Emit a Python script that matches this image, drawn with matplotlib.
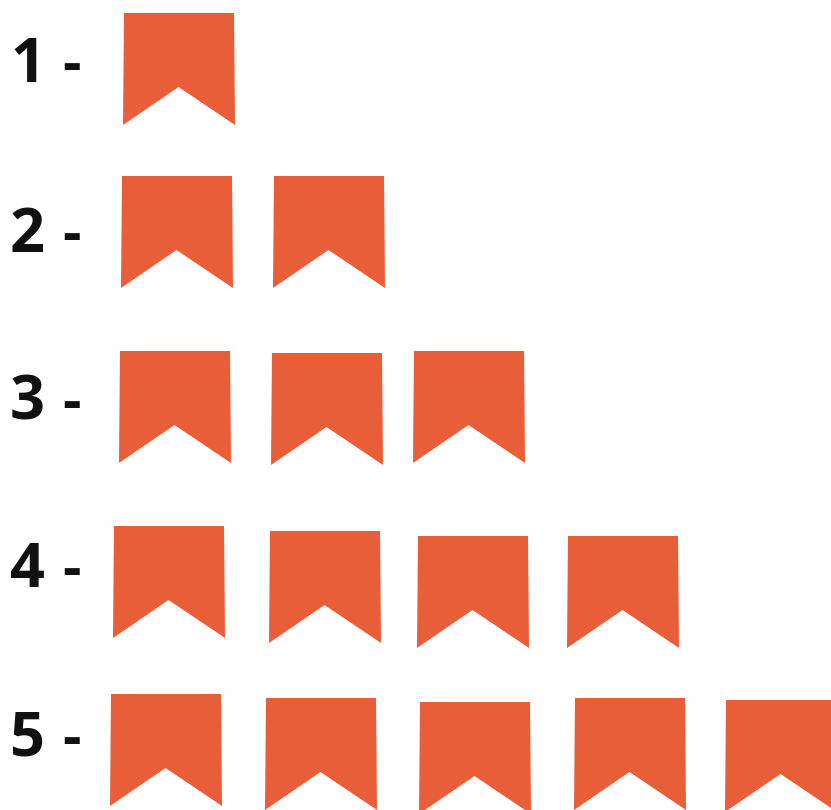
import matplotlib
matplotlib.use("Agg")
from matplotlib import pyplot as plt
from matplotlib.path import Path
from matplotlib.patches import PathPatch

row_labels = ["1", "2", "3", "4", "5"]
counts = [1, 2, 3, 4, 5]

# where each banner sits in the picture (left edge, top edge in pixels)
row_lefts = [[123], [121, 273], [119, 271, 413], [113, 269, 417, 567], [110, 265, 419, 574, 725]]
row_tops = [[13], [176, 176], [351, 353, 351], [526, 531, 536, 536], [694, 698, 702, 698, 700]]
label_baseline = [82, 252, 420, 587, 756]

BANNER_COLOR = "#E85E38"
BANNER_W = 111
BANNER_H = 112
NOTCH_H = 38

fig = plt.figure(figsize=(8.31, 8.10), dpi=100)
ax = fig.add_axes([0, 0, 1, 1])
ax.set_xlim(0, 831)
ax.set_ylim(810, 0)
ax.axis("off")


def draw_banner(left, top):
    verts = [
        (left + 1, top),
        (left + BANNER_W, top),
        (left + BANNER_W + 1, top + BANNER_H),
        (left + BANNER_W / 2, top + BANNER_H - NOTCH_H),
        (left, top + BANNER_H),
        (left + 1, top),
    ]
    path = Path(verts, closed=True)
    ax.add_patch(PathPatch(path, facecolor=BANNER_COLOR, edgecolor="none"))


for label, n, lefts, tops, y in zip(row_labels, counts, row_lefts, row_tops, label_baseline):
    # digit and dash are placed apart, the gap is wider than a normal space
    ax.text(10, y, label, fontsize=44, fontweight="bold", family="Open Sans",
            color="#111111", ha="left", va="baseline")
    ax.text(62, y, "-", fontsize=41, fontweight="bold", family="Open Sans",
            color="#111111", ha="left", va="baseline")
    for left, top in zip(lefts[:n], tops[:n]):
        draw_banner(left, top)

fig.savefig("out.png", dpi=100)
